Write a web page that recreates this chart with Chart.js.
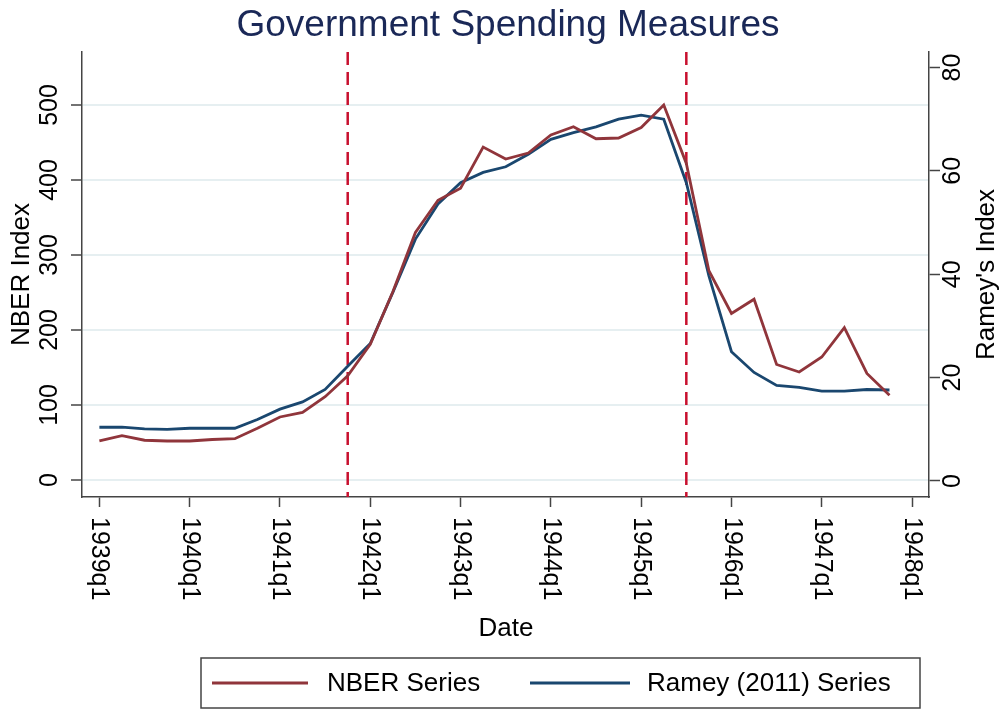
<!DOCTYPE html>
<html>
<head>
<meta charset="utf-8">
<script src="https://cdn.jsdelivr.net/npm/chart.js@4.4.1/dist/chart.umd.min.js"></script>
<style>
  html, body { margin: 0; padding: 0; background: #fff; }
  #wrap { width: 1004px; height: 711px; }
</style>
</head>
<body>
<div id="wrap"><canvas id="grafico" width="1004" height="711"></canvas></div>
<script>
// quarters 1939q1 .. 1947q4
const trimestres = [
  '1939q1','1939q2','1939q3','1939q4','1940q1','1940q2','1940q3','1940q4',
  '1941q1','1941q2','1941q3','1941q4','1942q1','1942q2','1942q3','1942q4',
  '1943q1','1943q2','1943q3','1943q4','1944q1','1944q2','1944q3','1944q4',
  '1945q1','1945q2','1945q3','1945q4','1946q1','1946q2','1946q3','1946q4',
  '1947q1','1947q2','1947q3','1947q4'
];
const serieNBER = [
  52, 59, 53, 52, 52, 54, 55, 69, 84, 90, 111, 139,
  181, 251, 330, 373, 389, 444, 428, 436, 460, 471, 455, 456,
  470, 500, 422, 279, 222, 241, 154, 144, 164, 203, 142, 113
];
const serieRamey = [
  10.4, 10.4, 10.1, 10.0, 10.2, 10.2, 10.2, 11.9, 13.9, 15.3, 17.7, 22.2,
  26.6, 36.5, 46.8, 53.6, 57.7, 59.7, 60.8, 63.2, 66.1, 67.4, 68.5, 70.0,
  70.8, 70.0, 57.7, 39.7, 25.0, 21.0, 18.5, 18.1, 17.4, 17.4, 17.7, 17.6
];
const etiquetasX = ['1939q1','1940q1','1941q1','1942q1','1943q1','1944q1','1945q1','1946q1','1947q1','1948q1'];
const ticksNBER = [0, 100, 200, 300, 400, 500];
const ticksRamey = [0, 20, 40, 60, 80];
const eventos = ['1941q4', '1945q3'];

const FUENTE = "'Liberation Sans', Arial, sans-serif";
const ROJO = '#90353b';
const AZUL = '#1a476f';

function indiceTrimestre(et) {
  const anio = parseInt(et.slice(0, 4));
  const q = parseInt(et.slice(5));
  return (anio - 1939) * 4 + (q - 1);
}

const puntosNBER = serieNBER.map((v, i) => ({ x: indiceTrimestre(trimestres[i]), y: v }));
const puntosRamey = serieRamey.map((v, i) => ({ x: indiceTrimestre(trimestres[i]), y: v }));

function fijarTicks(valores) {
  return s => { s.ticks = valores.map(v => ({ value: v })); };
}

// lineas verticales discontinuas
const pluginEventos = {
  id: 'eventos',
  beforeDatasetsDraw(chart) {
    const { ctx, chartArea, scales } = chart;
    ctx.save();
    ctx.strokeStyle = '#c8102e';
    ctx.lineWidth = 2.5;
    ctx.setLineDash([13, 7]);
    eventos.forEach(e => {
      const x = scales.x.getPixelForValue(indiceTrimestre(e));
      ctx.beginPath();
      ctx.moveTo(x, chartArea.top);
      ctx.lineTo(x, chartArea.bottom);
      ctx.stroke();
    });
    ctx.restore();
  }
};

// textos estilo Stata
const pluginTextos = {
  id: 'textos',
  afterDraw(chart) {
    const { ctx, scales } = chart;
    ctx.save();

    // titulo
    ctx.fillStyle = '#1a2857';
    ctx.font = `37px ${FUENTE}`;
    ctx.textAlign = 'center';
    ctx.textBaseline = 'middle';
    ctx.fillText('Government Spending Measures', 508, 26);
    ctx.fillStyle = '#000';

    function vertical(texto, x, y, fuente) {
      ctx.save();
      ctx.translate(x, y);
      ctx.rotate(-Math.PI / 2);
      ctx.font = fuente;
      ctx.textAlign = 'center';
      ctx.textBaseline = 'middle';
      ctx.fillText(texto, 0, 0);
      ctx.restore();
    }

    ticksNBER.forEach(v => vertical(String(v), 50, scales.y.getPixelForValue(v), `25px ${FUENTE}`));
    ticksRamey.forEach(v => vertical(String(v), 953, scales.y1.getPixelForValue(v), `25px ${FUENTE}`));
    const medio = (chart.chartArea.top + chart.chartArea.bottom) / 2;
    vertical('NBER Index', 22, medio, `26px ${FUENTE}`);
    vertical("Ramey's Index", 987, medio, `26px ${FUENTE}`);

    etiquetasX.forEach(et => {
      const x = scales.x.getPixelForValue(indiceTrimestre(et));
      ctx.save();
      ctx.translate(x, 517);
      ctx.rotate(Math.PI / 2);
      ctx.font = `25px ${FUENTE}`;
      ctx.textAlign = 'left';
      ctx.textBaseline = 'middle';
      ctx.fillText(et, 0, 0);
      ctx.restore();
    });

    ctx.font = `26px ${FUENTE}`;
    ctx.textAlign = 'center';
    ctx.textBaseline = 'middle';
    ctx.fillText('Date', 506, 629);

    // leyenda
    ctx.strokeStyle = '#444';
    ctx.lineWidth = 1.5;
    ctx.strokeRect(201, 658, 719, 50);
    const items = [
      { ds: chart.data.datasets[0], x0: 212, x1: 308, tx: 327 },
      { ds: chart.data.datasets[1], x0: 530, x1: 630, tx: 647 }
    ];
    items.forEach(it => {
      ctx.strokeStyle = it.ds.borderColor;
      ctx.lineWidth = 2.8;
      ctx.beginPath();
      ctx.moveTo(it.x0, 683);
      ctx.lineTo(it.x1, 683);
      ctx.stroke();
      ctx.fillStyle = '#000';
      ctx.textAlign = 'left';
      ctx.fillText(it.ds.label, it.tx, 684);
    });
    ctx.restore();
  }
};

new Chart(document.getElementById('grafico').getContext('2d'), {
  type: 'line',
  data: {
    datasets: [
      {
        label: 'NBER Series',
        data: puntosNBER,
        yAxisID: 'y',
        borderColor: ROJO,
        borderWidth: 2.8,
        pointRadius: 0,
        tension: 0,
        fill: false
      },
      {
        label: 'Ramey (2011) Series',
        data: puntosRamey,
        yAxisID: 'y1',
        borderColor: AZUL,
        borderWidth: 2.8,
        pointRadius: 0,
        tension: 0,
        fill: false
      }
    ]
  },
  options: {
    responsive: false,
    animation: false,
    layout: { padding: { top: 52, left: 0, right: 0, bottom: 0 } },
    plugins: {
      legend: { display: false },
      title: { display: false },
      tooltip: { enabled: false }
    },
    scales: {
      x: {
        type: 'linear',
        min: -0.77,
        max: 36.75,
        afterBuildTicks: fijarTicks(etiquetasX.map(indiceTrimestre)),
        afterFit: s => { s.height = 214; },
        ticks: { display: false },
        grid: { drawOnChartArea: false, drawTicks: true, tickLength: 10, tickColor: '#444', tickWidth: 1.5 },
        border: { display: true, color: '#444', width: 1.5 }
      },
      y: {
        position: 'left',
        min: -22.7,
        max: 570.7,
        afterBuildTicks: fijarTicks(ticksNBER),
        afterFit: s => { s.width = 82; },
        ticks: { display: false },
        grid: { color: '#e6eff1', lineWidth: 2, drawTicks: true, tickLength: 11, tickColor: '#444', tickWidth: 1.5 },
        border: { display: true, color: '#444', width: 1.5 }
      },
      y1: {
        position: 'right',
        min: -3.1,
        max: 83,
        afterBuildTicks: fijarTicks(ticksRamey),
        afterFit: s => { s.width = 75; },
        ticks: { display: false },
        grid: { drawOnChartArea: false, drawTicks: true, tickLength: 11, tickColor: '#444', tickWidth: 1.5 },
        border: { display: true, color: '#444', width: 1.5 }
      }
    }
  },
  plugins: [pluginEventos, pluginTextos]
});
</script>
</body>
</html>
